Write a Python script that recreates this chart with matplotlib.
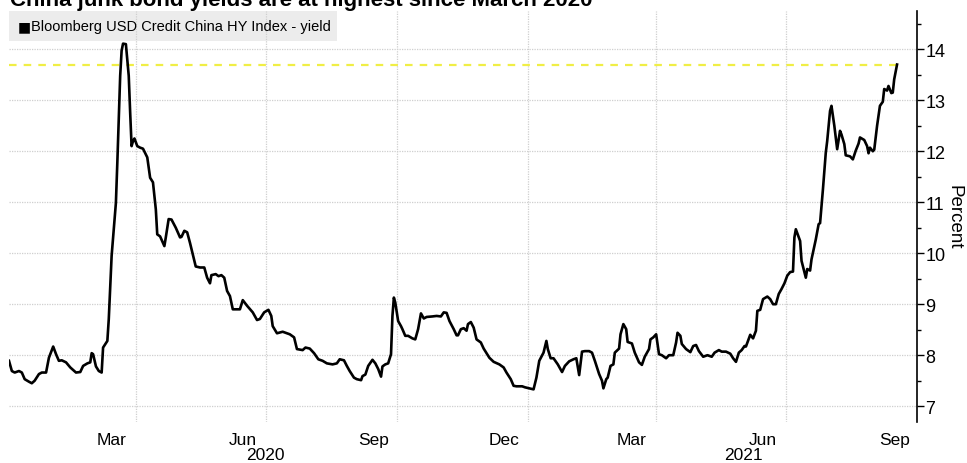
import matplotlib
matplotlib.use("Agg")
import matplotlib.pyplot as plt
import matplotlib.dates as mdates
from matplotlib.patches import Rectangle
from matplotlib.ticker import MultipleLocator, NullFormatter
from matplotlib import font_manager
import pandas as pd

# --- data -----------------------------------------------------------------
series_name = "Bloomberg USD Credit China HY Index - yield"
title = "China junk bond yields are at highest since March 2020"
y_label = "Percent"

dates = [
    "2020-01-03", "2020-01-05", "2020-01-07", "2020-01-10", "2020-01-12", "2020-01-14",
    "2020-01-17", "2020-01-19", "2020-01-21", "2020-01-24", "2020-01-26", "2020-01-29",
    "2020-01-31", "2020-02-03", "2020-02-05", "2020-02-07", "2020-02-09", "2020-02-12",
    "2020-02-15", "2020-02-19", "2020-02-22", "2020-02-24", "2020-02-27", "2020-02-29",
    "2020-03-01", "2020-03-02", "2020-03-04", "2020-03-06", "2020-03-08", "2020-03-09",
    "2020-03-12", "2020-03-13", "2020-03-15", "2020-03-18", "2020-03-19", "2020-03-21",
    "2020-03-22", "2020-03-23", "2020-03-25", "2020-03-27", "2020-03-28", "2020-03-29",
    "2020-03-30", "2020-03-31", "2020-04-02", "2020-04-04", "2020-04-06", "2020-04-09",
    "2020-04-11", "2020-04-13", "2020-04-15", "2020-04-16", "2020-04-18", "2020-04-21",
    "2020-04-22", "2020-04-24", "2020-04-26", "2020-04-29", "2020-05-02", "2020-05-03",
    "2020-05-05", "2020-05-07", "2020-05-09", "2020-05-13", "2020-05-16", "2020-05-19",
    "2020-05-21", "2020-05-23", "2020-05-24", "2020-05-27", "2020-05-29", "2020-05-31",
    "2020-06-02", "2020-06-04", "2020-06-06", "2020-06-08", "2020-06-11", "2020-06-13",
    "2020-06-15", "2020-06-18", "2020-06-22", "2020-06-25", "2020-06-27", "2020-06-30",
    "2020-07-03", "2020-07-05", "2020-07-06", "2020-07-09", "2020-07-13", "2020-07-16",
    "2020-07-18", "2020-07-21", "2020-07-23", "2020-07-27", "2020-07-29", "2020-08-01",
    "2020-08-04", "2020-08-07", "2020-08-10", "2020-08-13", "2020-08-17", "2020-08-20",
    "2020-08-22", "2020-08-25", "2020-08-27", "2020-08-29", "2020-09-01", "2020-09-03",
    "2020-09-06", "2020-09-07", "2020-09-09", "2020-09-11", "2020-09-14", "2020-09-16",
    "2020-09-18", "2020-09-20", "2020-09-21", "2020-09-23", "2020-09-25", "2020-09-27",
    "2020-09-28", "2020-09-29", "2020-09-30", "2020-10-02", "2020-10-04", "2020-10-05",
    "2020-10-07", "2020-10-09", "2020-10-12", "2020-10-14", "2020-10-16", "2020-10-18",
    "2020-10-20", "2020-10-22", "2020-10-26", "2020-10-29", "2020-11-01", "2020-11-03",
    "2020-11-05", "2020-11-07", "2020-11-10", "2020-11-12", "2020-11-13", "2020-11-15",
    "2020-11-17", "2020-11-19", "2020-11-20", "2020-11-22", "2020-11-24", "2020-11-26",
    "2020-11-29", "2020-12-01", "2020-12-05", "2020-12-08", "2020-12-12", "2020-12-15",
    "2020-12-17", "2020-12-20", "2020-12-22", "2020-12-24", "2020-12-28", "2020-12-30",
    "2021-01-02", "2021-01-05", "2021-01-07", "2021-01-09", "2021-01-12", "2021-01-14",
    "2021-01-15", "2021-01-17", "2021-01-19", "2021-01-22", "2021-01-25", "2021-01-27",
    "2021-01-30", "2021-02-02", "2021-02-04", "2021-02-06", "2021-02-08", "2021-02-10",
    "2021-02-13", "2021-02-15", "2021-02-17", "2021-02-20", "2021-02-22", "2021-02-23",
    "2021-02-25", "2021-02-26", "2021-02-28", "2021-03-02", "2021-03-03", "2021-03-06",
    "2021-03-07", "2021-03-09", "2021-03-11", "2021-03-12", "2021-03-15", "2021-03-17",
    "2021-03-20", "2021-03-22", "2021-03-24", "2021-03-27", "2021-03-28", "2021-03-30",
    "2021-04-01", "2021-04-03", "2021-04-05", "2021-04-08", "2021-04-10", "2021-04-13",
    "2021-04-15", "2021-04-16", "2021-04-18", "2021-04-19", "2021-04-22", "2021-04-25",
    "2021-04-27", "2021-04-29", "2021-05-01", "2021-05-04", "2021-05-07", "2021-05-10",
    "2021-05-12", "2021-05-15", "2021-05-17", "2021-05-20", "2021-05-23", "2021-05-25",
    "2021-05-27", "2021-05-29", "2021-05-31", "2021-06-02", "2021-06-03", "2021-06-06",
    "2021-06-08", "2021-06-10", "2021-06-11", "2021-06-13", "2021-06-15", "2021-06-18",
    "2021-06-20", "2021-06-22", "2021-06-24", "2021-06-26", "2021-06-28", "2021-06-30",
    "2021-07-02", "2021-07-04", "2021-07-06", "2021-07-07", "2021-07-08", "2021-07-11",
    "2021-07-12", "2021-07-15", "2021-07-16", "2021-07-18", "2021-07-19", "2021-07-21",
    "2021-07-22", "2021-07-24", "2021-07-25", "2021-07-27", "2021-07-29", "2021-07-30",
    "2021-08-01", "2021-08-02", "2021-08-04", "2021-08-06", "2021-08-08", "2021-08-09",
    "2021-08-11", "2021-08-12", "2021-08-15", "2021-08-17", "2021-08-19", "2021-08-21",
    "2021-08-22", "2021-08-25", "2021-08-27", "2021-08-28", "2021-08-29", "2021-08-31",
    "2021-09-01", "2021-09-03", "2021-09-05", "2021-09-07", "2021-09-08", "2021-09-10",
    "2021-09-11", "2021-09-13", "2021-09-14", "2021-09-15", "2021-09-17",
]

yields = [
    7.89, 7.69, 7.66, 7.69, 7.66, 7.53,
    7.48, 7.45, 7.50, 7.63, 7.66, 7.66,
    7.95, 8.17, 8.02, 7.89, 7.90, 7.86,
    7.76, 7.66, 7.67, 7.79, 7.84, 7.86,
    8.04, 8.02, 7.78, 7.69, 7.66, 8.15,
    8.28, 8.71, 9.95, 10.99, 11.78, 13.48,
    13.97, 14.11, 14.10, 13.48, 12.76, 12.10,
    12.20, 12.25, 12.10, 12.07, 12.05, 11.88,
    11.48, 11.39, 10.86, 10.37, 10.33, 10.14,
    10.31, 10.67, 10.66, 10.50, 10.31, 10.32,
    10.44, 10.41, 10.20, 9.74, 9.72, 9.72,
    9.52, 9.41, 9.57, 9.59, 9.55, 9.57,
    9.52, 9.26, 9.16, 8.90, 8.90, 8.90,
    9.08, 8.97, 8.84, 8.69, 8.71, 8.84,
    8.89, 8.77, 8.57, 8.43, 8.46, 8.43,
    8.41, 8.35, 8.12, 8.10, 8.15, 8.13,
    8.04, 7.92, 7.89, 7.84, 7.82, 7.84,
    7.92, 7.90, 7.79, 7.69, 7.56, 7.53,
    7.51, 7.59, 7.62, 7.79, 7.91, 7.84,
    7.73, 7.58, 7.78, 7.82, 7.84, 8.02,
    8.77, 9.13, 9.03, 8.67, 8.57, 8.51,
    8.38, 8.38, 8.33, 8.31, 8.51, 8.82,
    8.72, 8.75, 8.76, 8.77, 8.76, 8.84,
    8.83, 8.67, 8.51, 8.39, 8.39, 8.51,
    8.53, 8.48, 8.61, 8.65, 8.54, 8.31,
    8.25, 8.13, 7.95, 7.87, 7.82, 7.76,
    7.66, 7.53, 7.40, 7.39, 7.39, 7.37,
    7.35, 7.33, 7.56, 7.89, 8.05, 8.28,
    8.12, 7.94, 7.94, 7.82, 7.67, 7.79,
    7.88, 7.92, 7.94, 7.61, 8.07, 8.08,
    8.08, 8.05, 7.89, 7.63, 7.50, 7.35,
    7.53, 7.56, 7.79, 7.82, 8.05, 8.13,
    8.41, 8.61, 8.51, 8.26, 8.23, 8.05,
    7.86, 7.81, 7.97, 8.12, 8.31, 8.35,
    8.41, 8.02, 8.00, 7.94, 8.00, 8.00,
    8.25, 8.44, 8.38, 8.22, 8.12, 8.06,
    8.18, 8.20, 8.08, 7.97, 8.00, 7.97,
    8.05, 8.10, 8.07, 8.07, 8.03, 7.94,
    7.87, 8.05, 8.10, 8.18, 8.17, 8.40,
    8.33, 8.48, 8.87, 8.89, 9.10, 9.15,
    9.10, 9.00, 9.00, 9.20, 9.30, 9.41,
    9.56, 9.63, 9.64, 10.31, 10.47, 10.24,
    9.85, 9.52, 9.69, 9.66, 9.88, 10.14,
    10.27, 10.57, 10.59, 11.25, 11.97, 12.20,
    12.79, 12.89, 12.50, 12.04, 12.40, 12.33,
    12.14, 11.92, 11.90, 11.84, 12.01, 12.15,
    12.27, 12.22, 12.10, 11.96, 12.07, 12.00,
    12.03, 12.50, 12.89, 12.97, 13.22, 13.19,
    13.28, 13.14, 13.15, 13.41, 13.70,
]

x_start, x_end = "2020-01-03", "2021-10-01"
y_min, y_max = 6.69, 14.75
year_labels = ["2020", "2021"]
year_label_dates = ["2020-07-01", "2021-06-01"]

# --- fonts ----------------------------------------------------------------
available = {f.name for f in font_manager.fontManager.ttflist}
narrow = "Liberation Sans Narrow" if "Liberation Sans Narrow" in available else "Liberation Sans"
plt.rcParams["font.family"] = ["Liberation Sans", "DejaVu Sans"]

# --- figure ---------------------------------------------------------------
fig = plt.figure(figsize=(9.67, 4.64), dpi=100)
ax = fig.add_axes([9 / 967, 1 - 423 / 464, 908 / 967, 411 / 464])

t = pd.to_datetime(dates)
ax.plot(t, yields, color="black", linewidth=1.9, solid_joinstyle="round", zorder=3)

# latest-level reference line
ax.hlines(yields[-1], t[0], t[-1], colors="#f0ee45", linestyles=(0, (3.4, 3.2)),
          linewidth=1.6, zorder=2)

ax.set_xlim(pd.Timestamp(x_start), pd.Timestamp(x_end))
ax.set_ylim(y_min, y_max)

# x axis: quarter boundaries as gridlines, month names mid-month
ax.xaxis.set_major_locator(mdates.MonthLocator(bymonth=[1, 4, 7, 10]))
ax.xaxis.set_major_formatter(NullFormatter())
ax.xaxis.set_minor_locator(mdates.MonthLocator(bymonth=[3, 6, 9, 12], bymonthday=15))
ax.xaxis.set_minor_formatter(mdates.DateFormatter("%b"))
ax.tick_params(axis="x", which="both", length=0, labelsize=12.5, pad=7)
for lab in ax.get_xticklabels(minor=True):
    lab.set_fontfamily(narrow)

for yl, yd in zip(year_labels, year_label_dates):
    ax.text(pd.Timestamp(yd), -0.062, yl, transform=ax.get_xaxis_transform(),
            ha="center", va="top", fontsize=12.5, fontfamily=narrow)

# y axis on the right
ax.yaxis.tick_right()
ax.yaxis.set_label_position("right")
ax.yaxis.set_major_locator(MultipleLocator(1))
ax.yaxis.set_minor_locator(MultipleLocator(0.5))
ax.tick_params(axis="y", which="major", length=5, width=1, labelsize=13, pad=1,
               colors="black")
ax.tick_params(axis="y", which="minor", length=3, width=1, colors="black")
for lab in ax.get_yticklabels():
    lab.set_fontfamily(narrow)
ax.set_ylabel(y_label, rotation=-90, labelpad=12, fontsize=13.5)

for side in ("left", "top", "bottom"):
    ax.spines[side].set_visible(False)
ax.spines["right"].set_color("black")
ax.spines["right"].set_linewidth(1.2)

ax.set_axisbelow(True)
ax.grid(True, which="major", axis="both", color="#cfcfcf", linestyle=(0, (1, 1)),
        linewidth=0.9)

# legend strip
ax.add_patch(Rectangle((0, 1 - 30 / 411), 328 / 908, 30 / 411, transform=ax.transAxes,
                       facecolor="#ececec", edgecolor="none", zorder=0.1))
ax.text(9 / 908, 1 - 15 / 411, "\u25A0", transform=ax.transAxes, ha="left",
        va="center", fontsize=10, fontfamily="DejaVu Sans", color="black")
ax.text(22 / 908, 1 - 15 / 411, series_name, transform=ax.transAxes, ha="left",
        va="center", fontsize=10.5)

# headline, partly above the frame edge
fig.text(10 / 967, 1 - 6 / 464, title, ha="left", va="baseline", fontsize=16,
         fontweight="bold")

fig.savefig("out.png", dpi=100)
